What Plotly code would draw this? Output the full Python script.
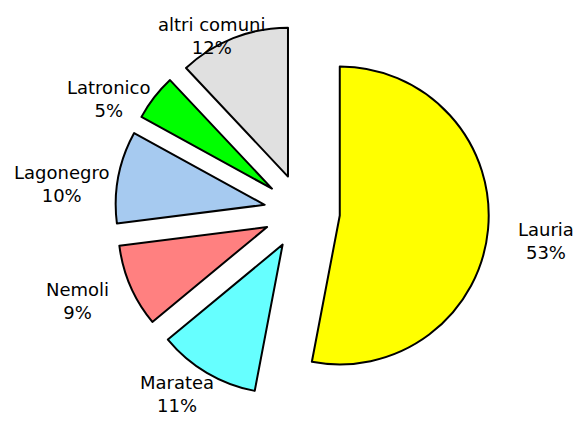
import math

import plotly.graph_objects as go

# comune share of the total
labels = ["Lauria", "Maratea", "Nemoli", "Lagonegro", "Latronico", "altri comuni"]
values = [53, 11, 9, 10, 5, 12]
colors = ["#FFFF00", "#66FFFF", "#FF8080", "#A6CAF0", "#00FF00", "#E0E0E0"]

DOMAIN_X = [0.183, 0.822]
DOMAIN_Y = [0.095, 0.961]
W, H = 585, 432

fig = go.Figure(
    go.Pie(
        labels=labels,
        values=values,
        sort=False,
        direction="clockwise",
        rotation=0,
        pull=[0.255] * len(values),
        marker={"colors": colors, "line": {"color": "black", "width": 2}},
        textinfo="none",
        domain={"x": DOMAIN_X, "y": DOMAIN_Y},
        hoverinfo="label+percent",
        showlegend=False,
    )
)

# labels sit on an ellipse around the pie, at each slice's mid angle
total = sum(values)
cx = (DOMAIN_X[0] + DOMAIN_X[1]) / 2
cy = (DOMAIN_Y[0] + DOMAIN_Y[1]) / 2 - 10 / H
rx, ry = 245 / W, 200 / H
start = 0.0
for lab, val in zip(labels, values):
    mid = (start + val / 2) / total * 2 * math.pi
    start += val
    fig.add_annotation(
        x=cx + rx * math.sin(mid),
        y=cy + ry * math.cos(mid),
        xref="paper",
        yref="paper",
        text=f"{lab}<br>{round(val / total * 100)}%",
        showarrow=False,
        xanchor="center",
        yanchor="middle",
        font={"family": "DejaVu Sans", "size": 18, "color": "black"},
    )

fig.update_layout(
    width=W,
    height=H,
    margin={"l": 0, "r": 0, "t": 0, "b": 0},
    paper_bgcolor="white",
    plot_bgcolor="white",
)
fig.write_html("out.html")
